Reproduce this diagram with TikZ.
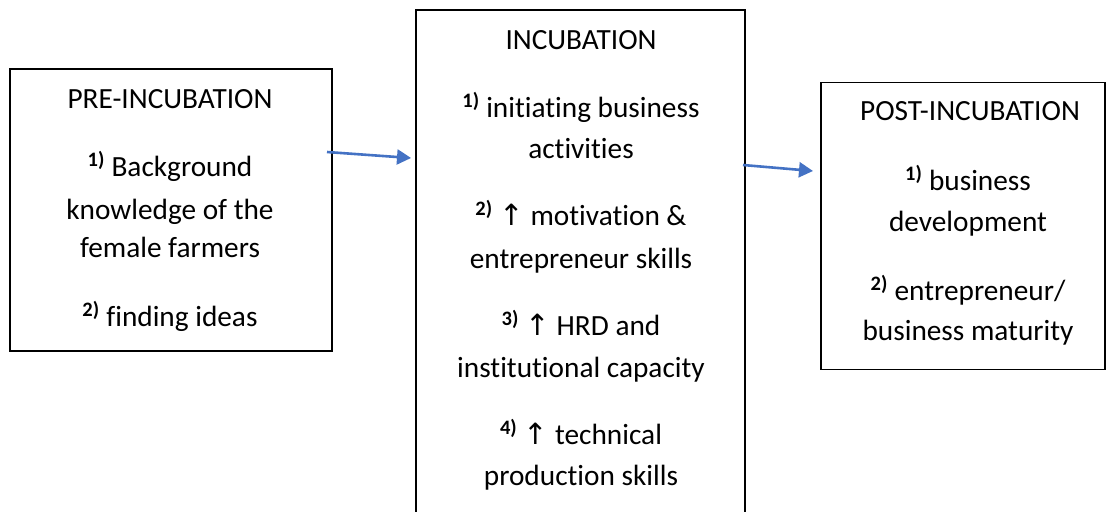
\documentclass[tikz,border=0pt]{standalone}
\usepackage{fontspec}
\usetikzlibrary{arrows.meta}
\setmainfont{Carlito}[RawFeature={-liga;-clig;-dlig;-calt}]
\newfontfamily\symf{DejaVu Sans}
\definecolor{arrowblue}{HTML}{4472C4}
\newcommand{\supn}[1]{\textsuperscript{\bfseries #1)}}
\newcommand{\uparr}{{\symf\char"2191}}
\newcommand{\tii}{t\kern0pt i}
\begin{document}
\begin{tikzpicture}[x=1pt,y=-1pt,
  box/.style={draw=black, line width=1.3pt, minimum width=#1, inner sep=0pt},
  txt/.style={anchor=base, inner sep=0pt, font=\fontsize{29.3}{34}\selectfont},
  conn/.style={draw=arrowblue, line width=2.6pt, -{Triangle[length=14pt,width=15pt]}}]
\clip (0,0) rectangle (1107,511);
\fill[white] (0,0) rectangle (1107,511);
\node[box=322pt, minimum height=282pt] (pre) at (171,210) {};
\node[box=329pt, minimum height=540pt] (inc) at (580.5,280) {};
\node[box=284pt, minimum height=287pt] (post) at (963,226) {};
% left
\node[txt] (p0) at (170,108) {PRE-INCUBATION};
\node[txt] (p1) at (170,176) {\supn{1} Background};
\node[txt] (p2) at (170,219) {knowledge of the};
\node[txt] (p3) at (170,257) {female farmers};
\node[txt] (p4) at (170,326) {\supn{2} finding ideas};
% middle
\node[txt] (i0) at (581,50) {INCUBATION};
\node[txt] (i1) at (581,117) {\supn{1} ini\tii a\tii ng business};
\node[txt] (i2) at (581,158) {ac\tii vi\tii es};
\node[txt] (i3) at (581,225) {\supn{2} \uparr{} mo\tii va\tii on \&};
\node[txt] (i4) at (581,268) {entrepreneur skills};
\node[txt] (i5) at (581,335) {\supn{3} \uparr{} HRD and};
\node[txt] (i6) at (581,377) {ins\tii tu\tii onal capacity};
\node[txt] (i7) at (581,444) {\supn{4} \uparr{} technical};
\node[txt] (i8) at (581,485) {production skills};
% right
\node[txt] (q0) at (970,120) {POST-INCUBATION};
\node[txt] (q1) at (968,190) {\supn{1} business};
\node[txt] (q2) at (968,231) {development};
\node[txt] (q3) at (968,300) {\supn{2} entrepreneur/};
\node[txt] (q4) at (968,340) {business maturity};
% arrows
\coordinate (a1s) at (327,152);
\coordinate (a1e) at (411,158);
\coordinate (a2s) at (743,165);
\coordinate (a2e) at (813,171);
\draw[conn] (a1s) -- (a1e);
\draw[conn] (a2s) -- (a2e);
\end{tikzpicture}
\end{document}
